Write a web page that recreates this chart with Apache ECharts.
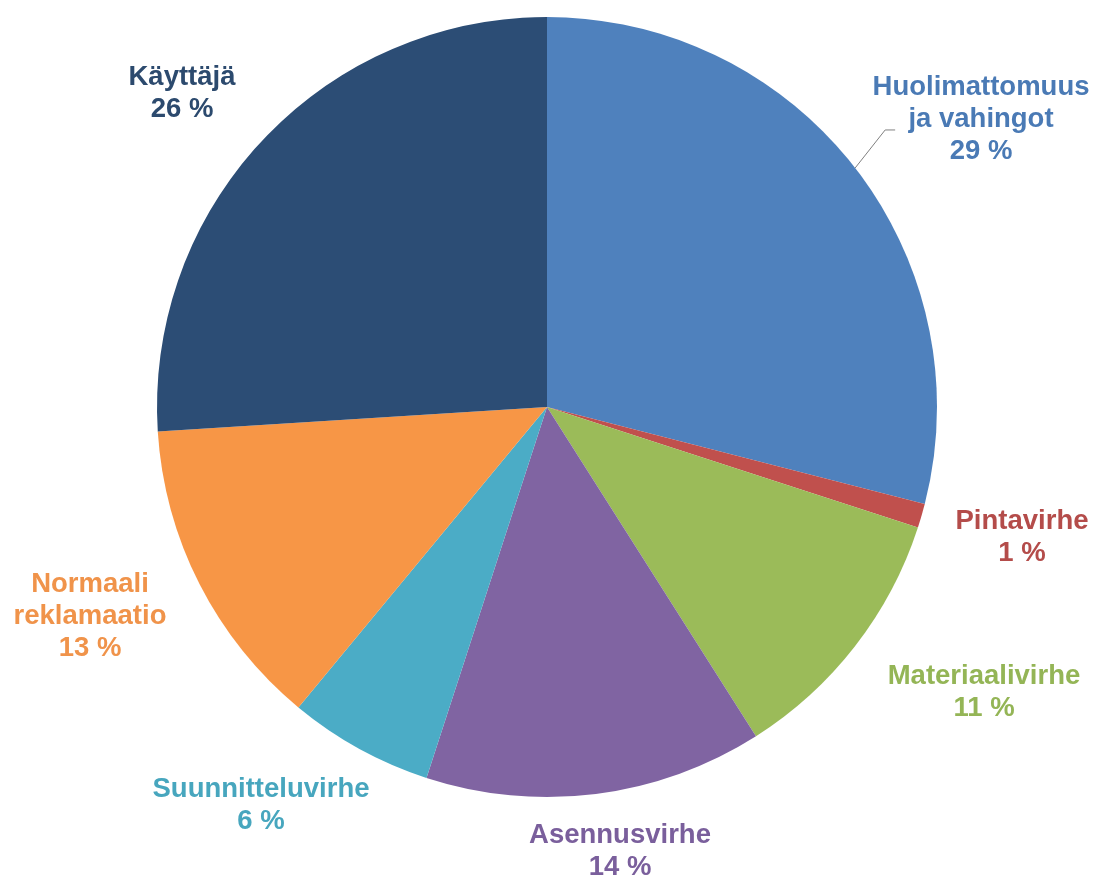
<!DOCTYPE html>
<html>
<head>
<meta charset="utf-8">
<style>
  html, body { margin: 0; padding: 0; background: #ffffff; }
  #chart { width: 1102px; height: 878px; }
</style>
<script src="https://cdn.jsdelivr.net/npm/echarts@6/dist/echarts.min.js"></script>
</head>
<body>
<div id="chart"></div>
<script>
// Reclamation causes, shares in percent (clockwise from 12 o'clock)
const categories = [
  'Huolimattomuus\nja vahingot',
  'Pintavirhe',
  'Materiaalivirhe',
  'Asennusvirhe',
  'Suunnitteluvirhe',
  'Normaali\nreklamaatio',
  'Käyttäjä'
];
const shares = [29, 1, 11, 14, 6, 13, 26];

// Slice colours
const sliceColors = ['#4F81BD', '#C0504D', '#9BBB59', '#8064A2', '#4BACC6', '#F79646', '#2C4D75'];
const labelColors = ['#4A7AB5', '#B44C4A', '#94B556', '#7A5F9C', '#47A6BE', '#F0934A', '#2C4A6E'];

// Label block centres around the pie
const labelSpots = [
  [981, 119], [1022, 537], [984, 692], [620, 851], [261, 805], [90, 616], [182, 93]
];

const chart = echarts.init(document.getElementById('chart'), null, { renderer: 'canvas' });

const data = categories.map((name, i) => ({
  name: name,
  value: shares[i],
  itemStyle: { color: sliceColors[i] },
  label: { color: labelColors[i] },
  labelLine: { show: i === 0 }
}));

chart.setOption({
  backgroundColor: '#ffffff',
  animation: false,
  series: [{
    type: 'pie',
    center: [547, 407],
    radius: [0, 390],
    startAngle: 90,
    clockwise: true,
    avoidLabelOverlap: false,
    itemStyle: { borderWidth: 0 },
    label: {
      show: true,
      position: 'outside',
      fontFamily: '"Liberation Sans", Arial, sans-serif',
      fontWeight: 'bold',
      fontSize: 27.5,
      lineHeight: 32,
      align: 'center',
      verticalAlign: 'middle',
      formatter: p => p.name + '\n' + p.value + ' %'
    },
    labelLine: {
      show: false,
      lineStyle: { color: '#808080', width: 1 }
    },
    labelLayout: function (params) {
      const spot = labelSpots[params.dataIndex];
      const out = { x: spot[0], y: spot[1], align: 'center', verticalAlign: 'middle' };
      if (params.dataIndex === 0 && params.labelLinePoints) {
        const p0 = params.labelLinePoints[0];
        out.labelLinePoints = [
          [p0[0], p0[1]],
          [p0[0] + 30, p0[1] - 38],
          [p0[0] + 40, p0[1] - 38]
        ];
      }
      return out;
    },
    data: data
  }]
});
</script>
</body>
</html>
